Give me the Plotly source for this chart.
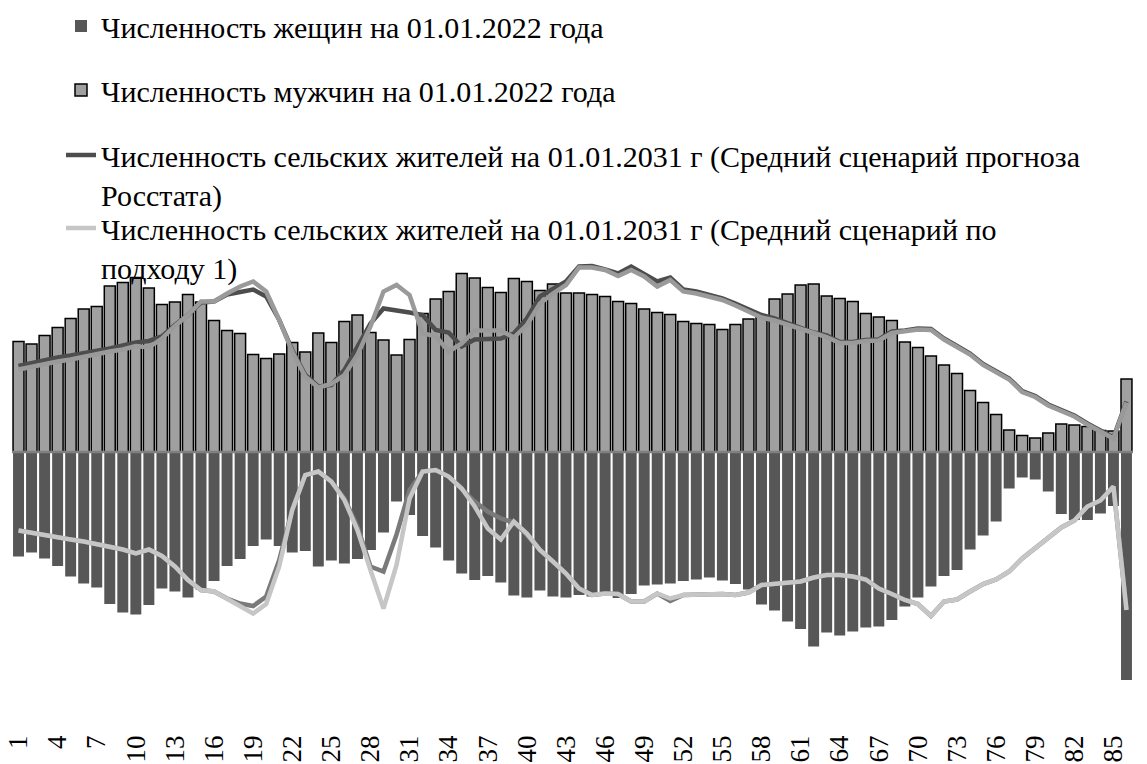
import plotly.graph_objects as go

# ---- data (ages 1..86, thousands of people) ----
ages = list(range(1, 87))
tick_ages = ages[::3]

women_2022 = [209, 201, 213, 228, 249, 263, 271, 304, 321, 325,
              306, 273, 279, 291, 275, 258, 228, 214, 188, 175,
              188, 201, 198, 229, 217, 223, 214, 196, 161, 99,
              126, 168, 191, 217, 243, 256, 248, 261, 287, 291,
              277, 289, 291, 286, 289, 288, 292, 284, 267, 265,
              263, 258, 255, 251, 257, 264, 275, 305, 317, 339,
              354, 389, 361, 367, 359, 351, 349, 336, 309, 291,
              269, 248, 236, 195, 167, 139, 73, 51, 55, 79,
              124, 136, 136, 123, 108, 456]

men_2022 = [221, 216, 233, 249, 267, 286, 291, 332, 339, 349,
            328, 295, 300, 315, 300, 263, 243, 237, 195, 187,
            196, 219, 200, 238, 219, 261, 274, 239, 224, 194,
            225, 277, 306, 321, 357, 348, 329, 319, 347, 341,
            323, 336, 318, 318, 315, 311, 301, 297, 286, 279,
            275, 261, 257, 255, 245, 255, 266, 272, 306, 316,
            334, 336, 312, 307, 301, 277, 270, 263, 220, 209,
            192, 174, 157, 123, 99, 75, 44, 33, 28, 38,
            56, 54, 51, 43, 42, 146]

men_rosstat_2031 = [172, 178, 184, 189, 193, 197, 203, 207, 213, 219,
                    222, 231, 254, 274, 299, 301, 315, 319, 325, 311,
                    264, 204, 154, 131, 134, 164, 212, 257, 287, 284,
                    279, 274, 244, 239, 211, 225, 227, 227, 237, 267,
                    311, 327, 341, 371, 372, 365, 357, 371, 357, 341,
                    349, 325, 321, 314, 307, 297, 285, 274, 267, 258,
                    248, 239, 233, 220, 220, 224, 225, 241, 243, 247,
                    246, 227, 212, 197, 176, 161, 147, 122, 112, 95,
                    83, 73, 57, 43, 29, 101]

men_approach1_2031 = [165, 171, 176, 181, 185, 191, 195, 201, 205, 212,
                      209, 227, 252, 274, 301, 301, 317, 331, 341, 321,
                      264, 201, 151, 129, 136, 154, 194, 251, 321, 334,
                      314, 237, 232, 201, 217, 243, 243, 243, 229, 254,
                      297, 317, 334, 369, 369, 364, 352, 364, 351, 331,
                      344, 321, 317, 311, 304, 293, 281, 269, 263, 255,
                      246, 237, 230, 218, 218, 222, 223, 238, 241, 245,
                      244, 225, 210, 195, 174, 159, 145, 120, 110, 93,
                      81, 71, 55, 41, 27, 99]

women_rosstat_2031 = [157, 162, 166, 171, 175, 179, 184, 188, 195, 203,
                      195, 208, 229, 256, 276, 279, 293, 303, 308, 289,
                      216, 116, 46, 39, 59, 93, 149, 229, 239, 165,
                      76, 39, 36, 49, 73, 99, 119, 133, 141, 166,
                      196, 219, 243, 273, 286, 283, 284, 299, 299, 283,
                      298, 286, 285, 283, 284, 286, 281, 266, 264, 261,
                      259, 251, 246, 246, 249, 255, 273, 284, 296, 304,
                      328, 299, 295, 279, 264, 255, 239, 213, 193, 171,
                      151, 137, 109, 97, 69, 316]

women_approach1_2031 = [157, 162, 166, 171, 175, 179, 184, 188, 195, 203,
                        195, 208, 229, 256, 276, 279, 293, 309, 323, 304,
                        229, 116, 46, 39, 59, 96, 156, 236, 313, 226,
                        93, 39, 36, 49, 73, 109, 153, 175, 139, 163,
                        196, 219, 243, 273, 286, 283, 284, 299, 299, 283,
                        293, 286, 285, 283, 284, 286, 281, 266, 264, 261,
                        259, 251, 246, 246, 249, 255, 273, 284, 296, 304,
                        328, 299, 295, 279, 264, 255, 239, 213, 193, 171,
                        151, 137, 109, 97, 69, 316]

name_women = "Численность жещин на 01.01.2022 года"
name_men = "Численность мужчин на 01.01.2022 года"
name_rosstat = "Численность сельских жителей на 01.01.2031 г (Средний сценарий прогноза<br>Росстата)"
name_approach1 = "Численность сельских жителей на 01.01.2031 г (Средний сценарий по<br>подходу 1)"

neg = lambda seq: [-v for v in seq]

fig = go.Figure()
fig.add_trace(go.Bar(x=ages, y=neg(women_2022), name=name_women, legend="legend",
                     marker=dict(color="#575757", line=dict(width=0))))
fig.add_trace(go.Bar(x=ages, y=men_2022, name=name_men, legend="legend2",
                     marker=dict(color="#a0a0a0", line=dict(color="#000000", width=1.5))))
fig.add_trace(go.Scatter(x=ages, y=men_rosstat_2031, mode="lines", name=name_rosstat,
                         legend="legend3", line=dict(color="#4d4d4d", width=4.5)))
fig.add_trace(go.Scatter(x=ages, y=men_approach1_2031, mode="lines", name=name_approach1,
                         showlegend=False, line=dict(color="#9a9a9a", width=4.5)))
fig.add_trace(go.Scatter(x=ages, y=neg(women_rosstat_2031), mode="lines", name=name_rosstat,
                         showlegend=False, line=dict(color="#7a7a7a", width=4.5)))
fig.add_trace(go.Scatter(x=ages, y=neg(women_approach1_2031), mode="lines", name=name_approach1,
                         legend="legend4", line=dict(color="#c6c6c6", width=4.5)))

legend_font = dict(family="Liberation Serif", size=30, color="#000000")
W, H = 1147, 764
def leg(top_px):
    return dict(x=61 / W, y=1 - top_px / H, xref="container", yref="container",
                xanchor="left", yanchor="top", bgcolor="rgba(0,0,0,0)", borderwidth=0,
                font=legend_font, valign="top", itemclick=False)

fig.update_layout(
    width=W, height=H,
    margin=dict(l=12, r=14, t=262, b=35, autoexpand=False),
    paper_bgcolor="white", plot_bgcolor="white",
    barmode="relative", bargap=0.16,
    legend=leg(0), legend2=leg(64), legend3=leg(129), legend4=leg(202),
    xaxis=dict(range=[0.5, 86.5], tickmode="array", tickvals=tick_ages,
               ticktext=[str(a) for a in tick_ages], tickangle=-90,
               tickfont=dict(family="Liberation Serif", size=27, color="#000000"),
               showgrid=False, zeroline=False, showline=False, ticks=""),
    yaxis=dict(range=[-554, 380], showticklabels=False, showgrid=False,
               zeroline=False, showline=False, ticks=""),
    shapes=[dict(type="line", xref="paper", x0=0, x1=1, yref="y", y0=0, y1=0,
                 line=dict(color="#808080", width=2.5), layer="above")],
)

fig.write_html("out.html", config={"displayModeBar": False},
               post_script="document.body.style.margin='0';")
